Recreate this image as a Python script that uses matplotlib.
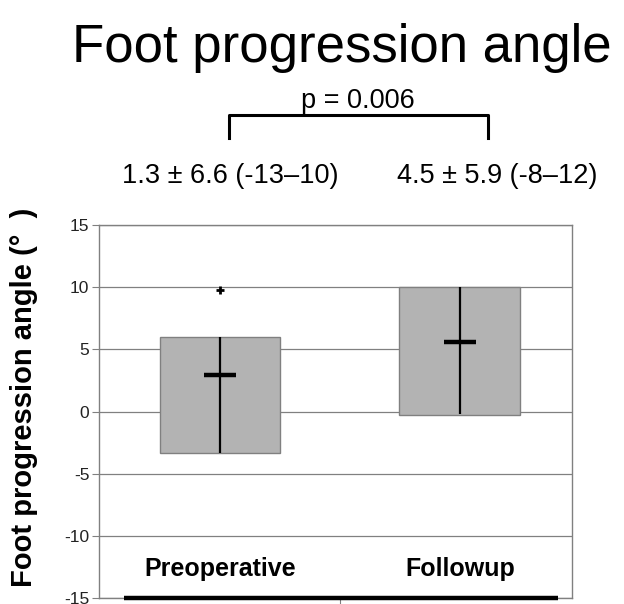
import matplotlib.pyplot as plt
import numpy as np

plt.rcParams['font.family'] = ['Liberation Sans', 'DejaVu Sans']

groups = ['Preoperative', 'Followup']
q1 = [-3.3, -0.25]
q3 = [6.0, 10.0]
medians = [2.9, 5.6]
whis_lo = [-3.3, -0.2]
whis_hi = [6.0, 10.0]
outliers = [[9.8], []]
summaries = ['1.3 \u00b1 6.6 (-13\u201310)', '4.5 \u00b1 5.9 (-8\u201312)']
p_text = 'p = 0.006'
yticks = [-15, -10, -5, 0, 5, 10, 15]

fig = plt.figure(figsize=(6.24, 6.04), dpi=100)
ax = fig.add_axes([0.1587, 0.0099, 0.758, 0.6176])

pos = np.arange(1, len(groups) + 1)
grey = '#808080'

ax.bar(pos, np.array(q3) - np.array(q1), bottom=q1, width=0.504,
       color='#b3b3b3', edgecolor=grey, linewidth=1, zorder=2)
ax.vlines(pos, whis_lo, whis_hi, color='black', linewidth=1.6, zorder=3)
ax.hlines(medians, pos - 0.065, pos + 0.065, color='black', linewidth=3.2, zorder=4)
for p, fl in zip(pos, outliers):
    if fl:
        ax.plot([p] * len(fl), fl, marker='+', color='black', markersize=6,
                markeredgewidth=2, linestyle='none', zorder=4)

ax.set_xlim(0.496, 2.467)
ax.set_ylim(-15, 15)
ax.set_yticks(yticks)
ax.set_yticklabels([str(t) for t in yticks], fontsize=12.5, color='#222222')
ax.grid(axis='y', color=grey, linewidth=0.9, zorder=0)
ax.set_axisbelow(True)
for s in ax.spines.values():
    s.set_color(grey)
    s.set_linewidth(1)
ax.tick_params(axis='y', direction='out', length=5, color=grey, pad=2)
ax.set_xticks([1.5])
ax.set_xticklabels([''])
ax.tick_params(axis='x', direction='out', length=4, color=grey)

# thick baseline
ax.hlines(-15, 0.6, 2.41, color='black', linewidth=3.2, zorder=5, clip_on=False)

for p, g in zip(pos, groups):
    ax.text(p, -13.2, g, ha='center', va='baseline', fontsize=18, fontweight='bold')

fig.text(0.548, 0.897, 'Foot progression angle', ha='center', va='baseline', fontsize=38)
fig.text(0.038, 0.343, 'Foot progression angle (\u00b0  )', rotation=90,
         ha='center', va='center', fontsize=21, fontweight='bold')

fig.text(0.574, 0.821, p_text, ha='center', va='baseline', fontsize=19.5)
bx = [0.367, 0.367, 0.782, 0.782]
by = [0.7715, 0.8096, 0.8096, 0.7715]
fig.add_artist(plt.Line2D(bx, by, color='black', linewidth=2.2, transform=fig.transFigure))

fig.text(122 / 624, 0.697, summaries[0], ha='left', va='baseline', fontsize=19.5)
fig.text(397 / 624, 0.697, summaries[1], ha='left', va='baseline', fontsize=19.5)

fig.savefig('out.png', dpi=100)
